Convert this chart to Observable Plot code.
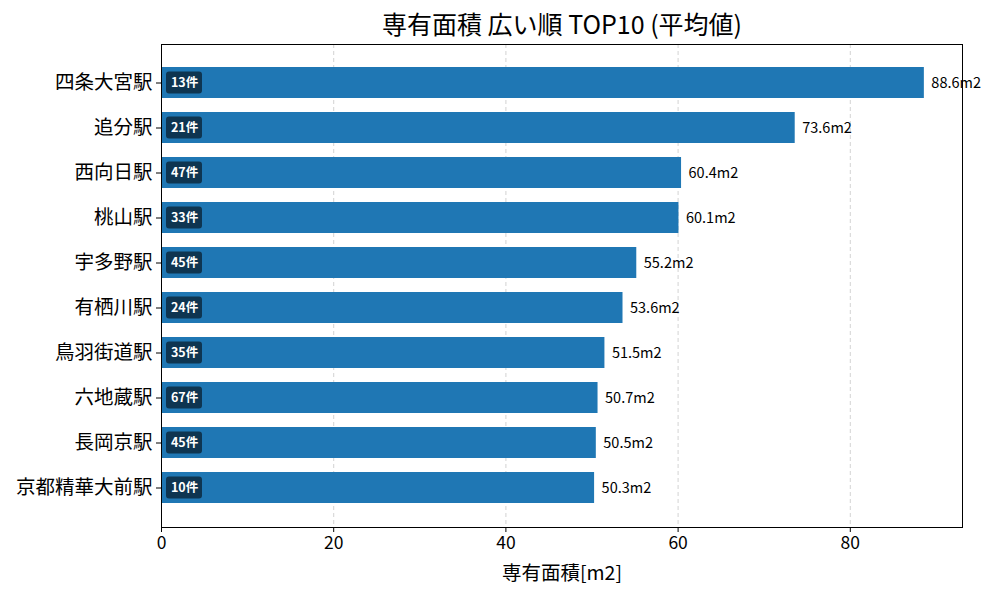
<!DOCTYPE html>
<html>
<head>
<meta charset="utf-8">
<script src="https://cdn.jsdelivr.net/npm/d3@7"></script>
<script src="https://cdn.jsdelivr.net/npm/@observablehq/plot@0.6"></script>
<style>
  body { margin: 0; background: #fff; }
  #chart svg { display: block; }
</style>
</head>
<body>
<div id="chart"></div>
<script>
const stations = ["四条大宮駅", "追分駅", "西向日駅", "桃山駅", "宇多野駅", "有栖川駅", "鳥羽街道駅", "六地蔵駅", "長岡京駅", "京都精華大前駅"];
const areas = [88.6, 73.6, 60.4, 60.1, 55.2, 53.6, 51.5, 50.7, 50.5, 50.3];
const counts = [13, 21, 47, 33, 45, 24, 35, 67, 45, 10];
const xTicks = [0, 20, 40, 60, 80];
const titleText = "専有面積 広い順 TOP10 (平均値)";
const xLabel = "専有面積[m2]";

const data = stations.map((s, i) => ({station: s, area: areas[i], count: counts[i]}));
const font = "'Noto Sans CJK JP', 'Noto Sans', sans-serif";

const chart = Plot.plot({
  width: 1000,
  height: 600,
  marginLeft: 161,
  marginRight: 38,
  marginTop: 44,
  marginBottom: 73,
  style: {fontFamily: font, background: "#fff", color: "#000"},
  x: {domain: [0, 93.03], ticks: xTicks, label: null},
  y: {domain: stations, label: null, paddingInner: 0.3, paddingOuter: 0.47},
  marks: [
    Plot.gridX(xTicks, {stroke: "#b0b0b0", strokeOpacity: 0.7, strokeDasharray: "4,3", strokeWidth: 0.8}),
    Plot.barX(data, {y: "station", x: "area", fill: "#1f77b4"}),
    Plot.rect(data, {y: "station", x1: 0, x2: 0, insetLeft: 5, insetRight: -41, insetTop: 4.5, insetBottom: 4.5, rx: 3, fill: "#000", fillOpacity: 0.55}),
    Plot.text(data, {y: "station", x: 0, dx: 23, text: d => `${d.count}件`, fill: "#fff", fontWeight: "bold", fontSize: 12.5, textAnchor: "middle"}),
    Plot.text(data, {y: "station", x: "area", dx: 7, text: d => `${d.area.toFixed(1)}m2`, fill: "#000", fontSize: 14.5, textAnchor: "start"}),
    Plot.axisX({ticks: xTicks, tickSize: 5, tickPadding: 4, fontSize: 17.5, label: null, tickFormat: d => String(d)}),
    Plot.axisY({tickSize: 5, tickPadding: 4, fontSize: 19.5, label: null}),
    Plot.frame({stroke: "#000", strokeWidth: 1}),
    Plot.text([titleText], {frameAnchor: "top", lineAnchor: "middle", dy: -19, fontSize: 25, fill: "#000", text: d => d}),
    Plot.text([xLabel], {frameAnchor: "bottom", lineAnchor: "middle", dy: 46, fontSize: 19.5, fill: "#000", text: d => d})
  ]
});
document.getElementById("chart").appendChild(chart);
</script>
</body>
</html>
